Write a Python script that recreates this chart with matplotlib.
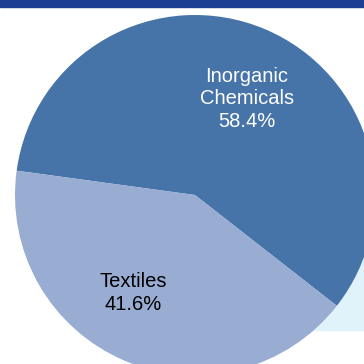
import matplotlib.pyplot as plt
from matplotlib.patches import Rectangle

plt.rcParams['font.family'] = ['Liberation Sans', 'DejaVu Sans']

categories = ['Inorganic\nChemicals', 'Textiles']
shares = [58.4, 41.6]
colors = ['#4674a8', '#99acd2']

fig = plt.figure(figsize=(3.64, 3.64), dpi=100)
ax = fig.add_axes([0, 0, 1, 1])

# title bar (cut off) and plot area background
ax.add_patch(Rectangle((0, 357), 364, 7, color='#1d3f93', zorder=0))
ax.add_patch(Rectangle((100, 34), 264, 190, color='#e1f3fa', zorder=0))

cx, cy, r = 195, 169, 180
wedges, _ = ax.pie(shares, colors=colors, startangle=-38, counterclock=True,
                   center=(cx, cy), radius=r, frame=True,
                   wedgeprops=dict(linewidth=0))
ax.set_xlim(0, 364)
ax.set_ylim(0, 364)
ax.axis('off')

label_pos = [(247, 265), (133, 71)]
text_colors = ['white', 'black']
for cat, val, (x, y), tc in zip(categories, shares, label_pos, text_colors):
    ax.text(x, y, '%s\n%.1f%%' % (cat, val), ha='center', va='center',
            color=tc, fontsize=14.5, linespacing=1.22)

fig.savefig('out.png', dpi=100)
